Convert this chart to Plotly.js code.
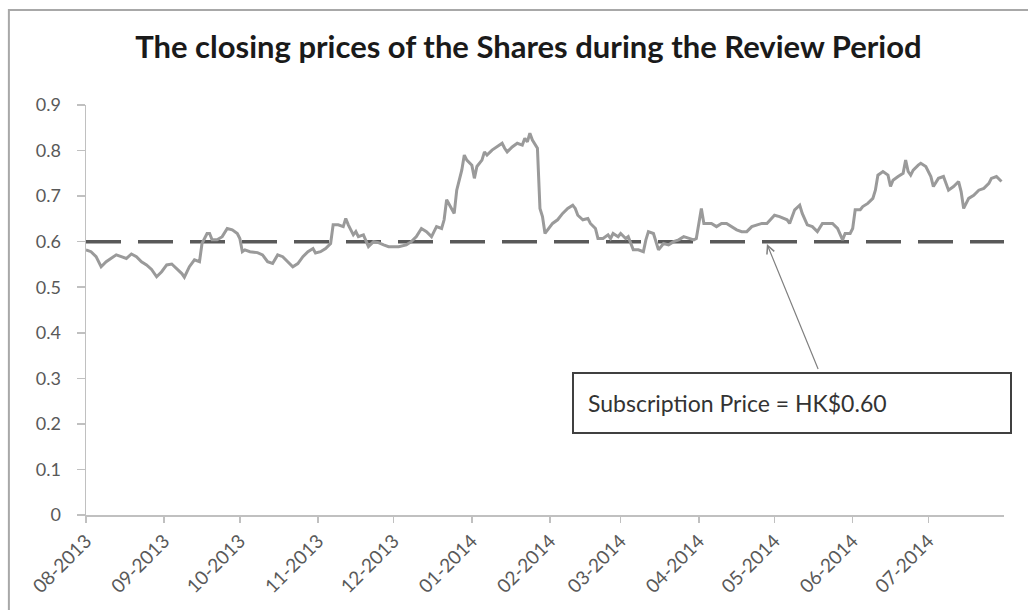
<!DOCTYPE html>
<html>
<head>
<meta charset="utf-8">
<script src="https://cdn.plot.ly/plotly-3.0.1.min.js"></script>
<style>
  html, body { margin: 0; padding: 0; background: #ffffff; }
  #chart { width: 1028px; height: 610px; }
</style>
</head>
<body>
<div id="chart"></div>
<script>
// Trading dates and closing prices (HK$)
const tradeDates = [
  "2013-08-01","2013-08-03","2013-08-05","2013-08-07","2013-08-09","2013-08-11","2013-08-13","2013-08-15",
  "2013-08-17","2013-08-19","2013-08-21","2013-08-23","2013-08-25","2013-08-27","2013-08-29","2013-08-31",
  "2013-09-02","2013-09-04","2013-09-06","2013-09-08","2013-09-09","2013-09-11","2013-09-13","2013-09-15",
  "2013-09-16","2013-09-18","2013-09-19","2013-09-20","2013-09-22","2013-09-24","2013-09-26","2013-09-28",
  "2013-09-30","2013-10-01","2013-10-02","2013-10-03","2013-10-05","2013-10-08","2013-10-10","2013-10-12",
  "2013-10-14","2013-10-16","2013-10-18","2013-10-20","2013-10-22","2013-10-24","2013-10-26","2013-10-28",
  "2013-10-30","2013-10-31","2013-11-02","2013-11-04","2013-11-06","2013-11-07","2013-11-09","2013-11-11",
  "2013-11-12","2013-11-13","2013-11-15","2013-11-16","2013-11-17","2013-11-19","2013-11-20","2013-11-21",
  "2013-11-23","2013-11-25","2013-11-27","2013-11-29","2013-11-30","2013-12-03","2013-12-06","2013-12-08",
  "2013-12-10","2013-12-12","2013-12-14","2013-12-16","2013-12-17","2013-12-18","2013-12-20","2013-12-21",
  "2013-12-22","2013-12-24","2013-12-25","2013-12-26","2013-12-28","2013-12-29","2013-12-30","2014-01-01",
  "2014-01-02","2014-01-03","2014-01-05","2014-01-06","2014-01-07","2014-01-09","2014-01-11","2014-01-13",
  "2014-01-14","2014-01-15","2014-01-17","2014-01-19","2014-01-21","2014-01-22","2014-01-23","2014-01-24",
  "2014-01-25","2014-01-27","2014-01-28","2014-01-29","2014-01-30","2014-02-02","2014-02-04","2014-02-06",
  "2014-02-08","2014-02-10","2014-02-11","2014-02-12","2014-02-14","2014-02-16","2014-02-17","2014-02-19",
  "2014-02-20","2014-02-22","2014-02-24","2014-02-25","2014-02-26","2014-02-28","2014-03-01","2014-03-03",
  "2014-03-04","2014-03-06","2014-03-08","2014-03-10","2014-03-11","2014-03-12","2014-03-14","2014-03-15",
  "2014-03-16","2014-03-18","2014-03-20","2014-03-22","2014-03-24","2014-03-26","2014-03-28","2014-03-30",
  "2014-03-31","2014-04-02","2014-04-03","2014-04-04","2014-04-06","2014-04-08","2014-04-10","2014-04-12",
  "2014-04-14","2014-04-16","2014-04-18","2014-04-20","2014-04-22","2014-04-24","2014-04-26","2014-04-28",
  "2014-05-01","2014-05-03","2014-05-06","2014-05-07","2014-05-09","2014-05-11","2014-05-12","2014-05-14",
  "2014-05-16","2014-05-18","2014-05-20","2014-05-22","2014-05-24","2014-05-26","2014-05-27","2014-05-28",
  "2014-05-29","2014-05-31","2014-06-01","2014-06-02","2014-06-04","2014-06-05","2014-06-07","2014-06-09",
  "2014-06-10","2014-06-11","2014-06-13","2014-06-15","2014-06-16","2014-06-17","2014-06-19","2014-06-21",
  "2014-06-22","2014-06-23","2014-06-24","2014-06-25","2014-06-27","2014-06-28","2014-06-30","2014-07-02",
  "2014-07-03","2014-07-05","2014-07-07","2014-07-09","2014-07-11","2014-07-13","2014-07-14","2014-07-15",
  "2014-07-17","2014-07-19","2014-07-21","2014-07-23","2014-07-25","2014-07-26","2014-07-28","2014-07-30"
];
const closingPrices = [
  0.582,0.578,0.567,0.545,0.556,0.563,0.571,0.567,
  0.563,0.573,0.567,0.556,0.549,0.539,0.523,0.534,
  0.549,0.551,0.541,0.530,0.522,0.545,0.560,0.556,
  0.596,0.618,0.618,0.604,0.604,0.611,0.629,0.626,
  0.618,0.607,0.578,0.582,0.578,0.576,0.571,0.556,
  0.552,0.571,0.567,0.556,0.545,0.552,0.567,0.578,
  0.585,0.575,0.578,0.585,0.596,0.637,0.637,0.633,
  0.651,0.637,0.615,0.622,0.611,0.615,0.600,0.589,
  0.600,0.598,0.593,0.589,0.589,0.589,0.593,0.600,
  0.611,0.629,0.622,0.611,0.622,0.633,0.629,0.648,
  0.692,0.670,0.662,0.713,0.757,0.790,0.779,0.768,
  0.739,0.765,0.779,0.797,0.790,0.801,0.808,0.816,
  0.805,0.797,0.808,0.816,0.812,0.827,0.819,0.838,
  0.823,0.805,0.673,0.655,0.618,0.640,0.648,0.662,
  0.673,0.680,0.673,0.658,0.648,0.651,0.640,0.629,
  0.607,0.607,0.615,0.607,0.618,0.611,0.618,0.607,
  0.611,0.582,0.582,0.578,0.604,0.622,0.618,0.600,
  0.582,0.596,0.593,0.600,0.604,0.611,0.607,0.604,
  0.607,0.673,0.640,0.640,0.640,0.633,0.640,0.640,
  0.633,0.626,0.622,0.622,0.633,0.637,0.640,0.640,
  0.658,0.655,0.648,0.640,0.670,0.680,0.662,0.637,
  0.633,0.622,0.640,0.640,0.640,0.629,0.618,0.604,
  0.618,0.618,0.629,0.670,0.670,0.677,0.684,0.695,
  0.713,0.746,0.754,0.746,0.721,0.735,0.743,0.750,
  0.779,0.754,0.746,0.757,0.768,0.772,0.765,0.743,
  0.721,0.739,0.743,0.713,0.721,0.732,0.710,0.673,
  0.695,0.702,0.713,0.717,0.728,0.739,0.743,0.732
];
const subscriptionPrice = 0.60;
const periodStart = "2013-08-01";
const periodEnd = "2014-07-31";
const yTickValues = [0, 0.1, 0.2, 0.3, 0.4, 0.5, 0.6, 0.7, 0.8, 0.9];
const chartTitle = "The closing prices of the Shares during the Review Period";
const noteText = "Subscription Price = HK$0.60";

const FONT = "Lato, 'Open Sans', sans-serif";

const traces = [
  {
    x: [periodStart, periodEnd],
    y: [subscriptionPrice, subscriptionPrice],
    type: "scatter",
    mode: "lines",
    line: { color: "#595959", width: 3.5, dash: "35px,17px" },
    hoverinfo: "skip",
    showlegend: false
  },
  {
    x: tradeDates,
    y: closingPrices,
    type: "scatter",
    mode: "lines",
    line: { color: "#9a9a9a", width: 3 },
    showlegend: false
  }
];

const layout = {
  width: 1028,
  height: 610,
  margin: { l: 86, r: 24, t: 105, b: 95 },
  paper_bgcolor: "#ffffff",
  plot_bgcolor: "#ffffff",
  font: { family: FONT, color: "#595959" },
  showlegend: false,
  title: {
    text: "<b>" + chartTitle + "</b>",
    font: { family: FONT, size: 31, color: "#1a1a1a" },
    xref: "container", x: 0.514, xanchor: "center",
    yref: "container", y: 0.922, yanchor: "middle"
  },
  xaxis: {
    type: "date",
    range: [periodStart, periodEnd],
    tick0: periodStart,
    dtick: "M1",
    tickformat: "%m-%Y",
    tickangle: -45,
    ticks: "outside",
    ticklen: 6,
    tickwidth: 1.5,
    tickcolor: "#c0c0c0",
    showline: true,
    linecolor: "#c0c0c0",
    linewidth: 1.5,
    showgrid: false,
    zeroline: false,
    tickfont: { family: FONT, size: 19, color: "#595959" }
  },
  yaxis: {
    range: [0, 0.9],
    tickvals: yTickValues,
    ticks: "outside",
    ticklen: 8,
    tickwidth: 1.5,
    tickcolor: "#c0c0c0",
    ticklabelstandoff: 12,
    showline: true,
    linecolor: "#c0c0c0",
    linewidth: 1.5,
    showgrid: false,
    zeroline: false,
    tickfont: { family: FONT, size: 18, color: "#595959" }
  },
  shapes: [
    {
      type: "rect", xref: "paper", yref: "paper",
      x0: -0.084, x1: 1.1, y0: -0.4, y1: 1.232,
      line: { color: "#a8a8a8", width: 2 },
      fillcolor: "rgba(0,0,0,0)",
      layer: "below"
    }
  ],
  annotations: [
    {
      xref: "paper", yref: "paper",
      x: 0.5294, y: 0.3488, xanchor: "left", yanchor: "top",
      text: noteText,
      showarrow: false,
      align: "left",
      width: 408, height: 30,
      borderpad: 14,
      borderwidth: 2,
      bordercolor: "#404040",
      bgcolor: "#ffffff",
      font: { family: FONT, size: 23, color: "#333333" }
    },
    {
      x: "2014-04-28", y: 0.595, xref: "x", yref: "y",
      text: " ",
      showarrow: true,
      arrowhead: 5,
      arrowsize: 1.3,
      arrowwidth: 1.2,
      arrowcolor: "#808080",
      ax: 52, ay: 127,
      font: { size: 1 }
    }
  ]
};

Plotly.newPlot("chart", traces, layout, { displayModeBar: false, staticPlot: true });
</script>
</body>
</html>
